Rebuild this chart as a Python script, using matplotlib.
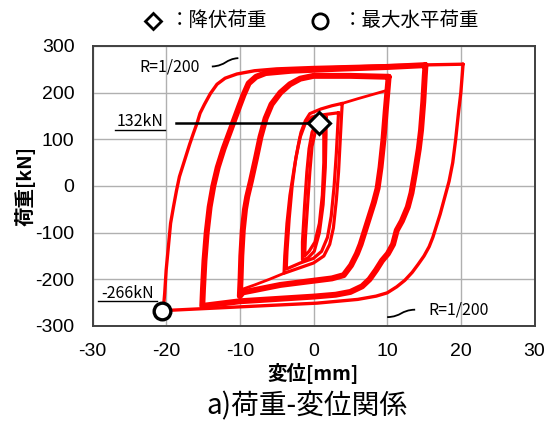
import matplotlib
matplotlib.use("Agg")
import matplotlib.pyplot as plt
from matplotlib.path import Path
from matplotlib.patches import PathPatch

plt.rcParams['axes.unicode_minus'] = False

# ---------------- data ----------------
# small loops (about +/-1.5 mm)
small1_x = [1.0, 1.4, 1.4, 1.2, 0.8, 0.2, -0.6, -1.2, -1.1, -0.8, -0.5, -0.2, 0.3, 0.7, 1.0]
small1_y = [137, 110, 50, -20, -80, -120, -140, -150, -110, -40, 30, 85, 120, 135, 137]
small2_x = [1.7, 1.7, 1.6, 1.3, 0.8, 0.1, -0.8, -1.5, -1.5, -1.2, -0.9, -0.6, -0.2, 0.4, 1.0, 1.7]
small2_y = [148, 110, 40, -40, -100, -140, -155, -158, -120, -40, 30, 80, 115, 135, 142, 148]

# +/-4 mm loops
loop4a_x = [3.9, 3.8, 3.6, 3.4, 3.1, 2.7, 2.2, 1.4, 0.0, -2.0, -4.0, -3.9, -3.6, -3.2, -2.6, -2.1, -1.7, -1.1, -0.5, 1.0, 2.5, 3.9]
loop4a_y = [177, 150, 90, 30, -30, -90, -125, -150, -165, -176, -187, -150, -80, -20, 40, 85, 115, 140, 155, 165, 172, 177]
loop4b_x = [3.4, 3.3, 3.1, 2.8, 2.4, 1.9, 1.1, 0.0, -1.8, -3.7, -3.6, -3.3, -2.9, -2.4, -1.8, -1.1, -0.2, 1.5, 3.4]
loop4b_y = [157, 130, 70, 0, -65, -110, -140, -155, -165, -178, -140, -70, 0, 60, 105, 135, 148, 153, 157]

# first excursion to +/-10 mm
first10p_x = [3.9, 6.0, 8.0, 10.0, 9.8, 9.5]
first10p_y = [177, 187, 196, 205, 160, 100]
first10n_x = [-4.0, -6.0, -8.0, -9.8, -9.9]
first10n_y = [-187, -200, -212, -222, -200]

# +/-10 mm loops
loop10_x = [10.2, 10.1, 9.8, 9.5, 9.1, 8.7, 8.2, 7.7, 7.0, 6.4, 5.9, 5.1, 4.1, 2.5, 0.0, -4.5, -8.0, -9.6,
            -10.0, -9.9, -9.8, -9.6, -9.3, -9.0, -8.5, -7.8, -7.2, -6.5, -5.7, -4.5, -3.2, -1.8, 0.0, 5.0, 10.2]
loop10_y = [234, 215, 160, 100, 40, -5, -35, -60, -95, -125, -145, -170, -191, -198, -203, -212, -223, -228,
            -236, -200, -150, -95, -50, -23, 10, 60, 105, 145, 175, 200, 218, 230, 236, 236, 234]

# +/-15 mm loops
loop15_x = [15.2, 15.1, 14.9, 14.6, 14.3, 13.8, 13.3, 12.8, 12.0, 11.3, 10.8, 10.1, 9.3, 8.5, 7.6, 6.6, 5.0, 3.0,
            0.0, -5.0, -10.0, -15.1, -15.0, -14.8, -14.5, -14.1, -13.6, -13.0, -12.2, -11.5, -10.8, -10.1,
            -9.5, -8.8, -7.8, -6.5, -3.0, 3.0, 10.0, 15.2]
loop15_y = [259, 235, 180, 120, 80, 30, -15, -45, -75, -95, -125, -145, -160, -180, -200, -215, -227, -233,
            -237, -242, -247, -257, -220, -160, -100, -45, 0, 40, 80, 110, 140, 170,
            195, 220, 234, 242, 247, 251, 255, 259]

# +/-20 mm loop
loop20_x = [20.3, 20.2, 20.0, 19.7, 19.3, 18.9, 18.4, 17.8, 17.2, 16.7, 16.2, 15.7, 15.0, 14.2, 13.4, 12.4,
            11.3, 10.0, 8.5, 6.0, 0.5, -10.0, -20.4, -20.2, -20.0, -19.7, -19.4, -19.0, -18.6, -18.2, -17.6,
            -17.2, -16.8, -16.3, -15.8, -15.4, -14.8, -14.0, -13.1, -12.0, -10.4, -8.0, -5.0, 0.0, 10.0, 20.3]
loop20_y = [261, 240, 200, 160, 100, 50, 10, -25, -60, -85, -110, -130, -150, -168, -185, -202,
            -216, -229, -236, -243, -251, -259, -267, -230, -180, -130, -80, -44, -10, 20, 50,
            70, 90, 113, 135, 156, 175, 198, 218, 231, 240, 247, 251, 254, 258, 261]

yield_point = (0.7, 136)
yield_label = "132kN"
max_point = (-20.5, -267)
max_label = "-266kN"
drift_label = "R=1/200"

x_ticks = [-30, -20, -10, 0, 10, 20, 30]
y_ticks = [-300, -200, -100, 0, 100, 200, 300]

# ---------------- figure ----------------
fig = plt.figure(figsize=(5.53, 4.23), dpi=100)
ax = fig.add_axes([92.5 / 553, 1 - 326 / 423, 442 / 553, 280 / 423])

ax.set_xlim(-30, 30)
ax.set_ylim(-300, 300)
ax.set_xticks(x_ticks)
ax.set_yticks(y_ticks)
ax.grid(True, color='#b0b0b0', linewidth=1.0)
ax.set_axisbelow(True)
for sp in ax.spines.values():
    sp.set_color('#404040')
    sp.set_linewidth(1.4)
ax.tick_params(axis='x', length=0, pad=12, labelsize=14)
ax.tick_params(axis='y', length=0, pad=13, labelsize=14)
for lab in ax.get_xticklabels() + ax.get_yticklabels():
    lab.set_fontfamily('Liberation Sans')

red = '#ff0000'
kw = dict(color=red, solid_joinstyle='round', solid_capstyle='round', zorder=3)
ax.plot(loop20_x, loop20_y, lw=2.4, **kw)
ax.plot(loop15_x, loop15_y, lw=4.3, **kw)
ax.plot(loop10_x, loop10_y, lw=4.3, **kw)
ax.plot(first10p_x, first10p_y, lw=2.0, **kw)
ax.plot(first10n_x, first10n_y, lw=2.0, **kw)
ax.plot(loop4a_x, loop4a_y, lw=2.3, **kw)
ax.plot(loop4b_x, loop4b_y, lw=2.3, **kw)
ax.plot(small2_x, small2_y, lw=2.3, **kw)
ax.plot(small1_x, small1_y, lw=2.3, **kw)

# yield point annotation
ax.plot([-18.7, yield_point[0]], [yield_point[1], yield_point[1]], color='black', lw=1.8, zorder=4)
ax.plot([yield_point[0]], [yield_point[1]], marker='D', ms=11, mfc='white', mec='black', mew=2.2, zorder=5)
jp = ['Noto Sans CJK JP', 'DejaVu Sans']
ax.text(-23.5, 139, yield_label, ha='center', va='center', fontsize=11.5, family=jp, zorder=5)
ax.plot([-26.9, -20.2], [121, 121], color='black', lw=1.0, zorder=4)

# max point annotation
ax.plot([max_point[0]], [max_point[1]], marker='o', ms=12, mfc='white', mec='black', mew=2.4, zorder=5, clip_on=False)
ax.text(-25.2, -231, max_label, ha='center', va='center', fontsize=11.5, family=jp, zorder=5)
ax.plot([-29.3, -21.3], [-246, -246], color='black', lw=1.0, zorder=4)

# drift labels with squiggles
ax.text(-19.5, 256, drift_label, ha='center', va='center', fontsize=11.5, family=jp)
verts = [(-13.8, 256), (-11.8, 258), (-12.0, 272), (-10.2, 274)]
ax.add_patch(PathPatch(Path(verts, [Path.MOVETO, Path.CURVE4, Path.CURVE4, Path.CURVE4]),
                       fc='none', ec='black', lw=1.3))
ax.text(19.7, -265, drift_label, ha='center', va='center', fontsize=11.5, family=jp)
verts = [(10.0, -281), (12.0, -280), (11.8, -266), (13.8, -265)]
ax.add_patch(PathPatch(Path(verts, [Path.MOVETO, Path.CURVE4, Path.CURVE4, Path.CURVE4]),
                       fc='none', ec='black', lw=1.3))

# axis labels
ax.set_xlabel('変位[mm]', fontsize=14, fontweight='bold', family=jp, labelpad=2)
ax.set_ylabel('荷重[kN]', fontsize=14, fontweight='bold', family=jp, labelpad=0)

# legend at top (figure coords)
fig.lines.append(plt.Line2D([153 / 553], [1 - 20.7 / 423], transform=fig.transFigure, marker='D', ms=8,
                            mfc='white', mec='black', mew=2.0, ls='none'))
fig.text(170 / 553, 1 - 20.7 / 423, '：降伏荷重', ha='left', va='center', fontsize=14, family=jp)
fig.lines.append(plt.Line2D([320 / 553], [1 - 20.7 / 423], transform=fig.transFigure, marker='o', ms=11,
                            mfc='white', mec='black', mew=2.0, ls='none'))
fig.text(343 / 553, 1 - 20.7 / 423, '：最大水平荷重', ha='left', va='center', fontsize=14, family=jp)

# caption
fig.text(307 / 553, 1 - 406 / 423, 'a)荷重-変位関係', ha='center', va='center', fontsize=20, family=jp)

fig.savefig('out.png', dpi=100)
